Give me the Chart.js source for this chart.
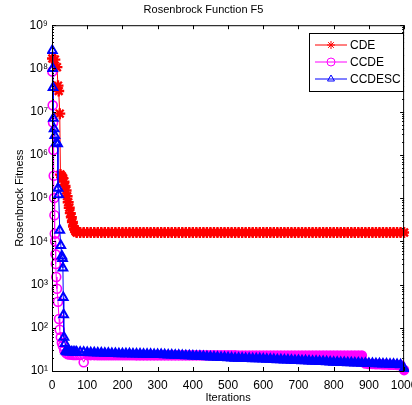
<!DOCTYPE html>
<html>
<head>
<meta charset="utf-8">
<title>Rosenbrock Function F5</title>
<script src="https://cdn.jsdelivr.net/npm/chart.js@4/dist/chart.umd.min.js"></script>
<style>
    html, body { margin: 0; padding: 0; background: #fff; }
    canvas { display: block; }
</style>
</head>
<body>
<canvas id="fitnessChart" width="412" height="405"></canvas>
<script>
// Early (fast descent) phase, per series
const cdeIter = [1, 8, 14, 17, 19, 22, 24, 28, 31, 34, 37, 40, 43, 46, 49, 52, 55, 58, 61, 64, 67];
const cdeFit = [1.7e8, 1.6e8, 1.07e8, 4.0e7, 3.0e7, 9.0e6, 3.5e5, 3.2e5, 2.9e5, 2.4e5, 1.9e5, 1.5e5, 1.1e5, 8.0e4, 6.0e4, 4.5e4, 3.6e4, 2.8e4, 2.2e4, 1.9e4, 1.7e4];

const ccdeIter = [1, 2, 3, 4, 5, 6, 7, 8, 9, 10, 11, 12, 14, 17, 20, 22, 25, 28, 31, 35, 40, 45, 50, 55, 60, 65];
const ccdeFit = [8.5e7, 1.4e7, 5.6e6, 1.3e6, 3.3e5, 1.0e5, 4.0e4, 1.5e4, 1.0e4, 5.0e3, 3.0e3, 1.5e3, 8.0e2, 4.0e2, 1.6e2, 9.0e1, 6.0e1, 4.5e1, 3.8e1, 3.0e1, 2.6e1, 2.45e1, 2.4e1, 2.4e1, 2.35e1, 2.35e1];

const ccdescIter = [1, 2, 3, 4, 6, 8, 12, 16, 17, 19, 22, 25, 28, 30, 31, 32, 33, 34, 37, 39, 42, 46, 50, 55, 60, 65];
const ccdescFit = [2.6e8, 1.0e8, 3.6e7, 7.0e6, 4.0e6, 2.8e6, 1.9e6, 1.8e6, 1.7e5, 1.2e5, 1.8e4, 8.0e3, 4.6e3, 4.0e3, 2.4e3, 5.0e2, 2.0e2, 6.0e1, 4.3e1, 2.9e1, 2.8e1, 2.78e1, 2.76e1, 2.75e1, 2.75e1, 2.75e1];

// Late (plateau) phase, shared iterations
const lateIter = [
    70, 80, 90, 100,
    110, 120, 130, 140, 150, 160, 170, 180, 190, 200,
    210, 220, 230, 240, 250, 260, 270, 280, 290, 300,
    310, 320, 330, 340, 350, 360, 370, 380, 390, 400,
    410, 420, 430, 440, 450, 460, 470, 480, 490, 500,
    510, 520, 530, 540, 550, 560, 570, 580, 590, 600,
    610, 620, 630, 640, 650, 660, 670, 680, 690, 700,
    710, 720, 730, 740, 750, 760, 770, 780, 790, 800,
    810, 820, 830, 840, 850, 860, 870, 880, 890, 900,
    910, 920, 930, 940, 950, 960, 970, 980, 990, 1000
];
const cdeLate = [
    16000, 16000, 16000, 16000,
    16000, 16000, 16000, 16000, 16000, 16000, 16000, 16000, 16000, 16000,
    16000, 16000, 16000, 16000, 16000, 16000, 16000, 16000, 16000, 16000,
    16000, 16000, 16000, 16000, 16000, 16000, 16000, 16000, 16000, 16000,
    16000, 16000, 16000, 16000, 16000, 16000, 16000, 16000, 16000, 16000,
    16000, 16000, 16000, 16000, 16000, 16000, 16000, 16000, 16000, 16000,
    16000, 16000, 16000, 16000, 16000, 16000, 16000, 16000, 16000, 16000,
    16000, 16000, 16000, 16000, 16000, 16000, 16000, 16000, 16000, 16000,
    16000, 16000, 16000, 16000, 16000, 16000, 16000, 16000, 16000, 16000,
    16000, 16000, 16000, 16000, 16000, 16000, 16000, 16000, 16000, 16000
];
const ccdeLate = [
    23.4, 23.4, 16, 23.3,
    23.3, 23.3, 23.2, 23.2, 23.2, 23.2, 23.1, 23.1, 23.1, 23.1,
    23.1, 23.1, 23.1, 23.0, 23.0, 23.0, 23.0, 23.0, 23.0, 23.0,
    23.0, 23.0, 23.0, 23.0, 23.0, 23.0, 23.0, 23.0, 23.0, 23.0,
    23.0, 23.0, 23.0, 23.0, 23.0, 23.0, 23.0, 23.0, 23.0, 23.0,
    23.0, 23.0, 22.9, 22.9, 22.9, 22.9, 22.9, 22.9, 22.9, 22.9,
    22.9, 22.9, 22.9, 22.9, 22.9, 22.9, 22.9, 22.9, 22.9, 22.9,
    22.9, 22.9, 22.9, 22.9, 22.9, 22.9, 22.9, 22.9, 22.9, 22.9,
    22.9, 22.9, 22.9, 22.9, 22.9, 22.9, 22.9, 22.8, 15.0, 14.6,
    14.5, 14.4, 14.3, 14.2, 14.1, 14.0, 13.9, 13.8, 13.5, 10.5
];
const ccdescLate = [
    27.4, 27.2, 27.0, 26.8,
    26.6, 26.4, 26.2, 26.0, 25.8, 25.6, 25.4, 25.3, 25.2, 25.1,
    25.0, 24.9, 24.8, 24.7, 24.6, 24.5, 24.4, 24.3, 24.2, 24.1,
    24.0, 23.8, 23.6, 23.4, 23.2, 23.0, 22.8, 22.6, 22.4, 22.2,
    22.0, 21.8, 21.6, 21.4, 21.2, 21.0, 20.8, 20.6, 20.4, 20.2,
    20.0, 19.8, 19.7, 19.6, 19.5, 19.4, 19.3, 19.2, 19.1, 19.0,
    18.8, 18.6, 18.5, 18.3, 18.1, 18.0, 17.9, 17.8, 17.6, 17.5,
    17.3, 17.2, 17.0, 16.9, 16.8, 16.6, 16.5, 16.4, 16.2, 16.0,
    15.9, 15.8, 15.7, 15.6, 15.5, 15.4, 15.3, 15.2, 15.1, 15.0,
    14.9, 14.8, 14.7, 14.6, 14.5, 14.4, 14.3, 14.2, 14.0, 11.5
];

const xTicks = [0, 100, 200, 300, 400, 500, 600, 700, 800, 900, 1000];
const yExponents = [1, 2, 3, 4, 5, 6, 7, 8, 9];
const supDigits = ['⁰', '¹', '²', '³', '⁴', '⁵', '⁶', '⁷', '⁸', '⁹'];

const FONT = "'Liberation Sans', Arial, sans-serif";
const PLATEAU_START = 100; // from here the markers overlap into a solid band

function toPoints(iters, fits) {
    return iters.map((it, i) => ({ x: it, y: fits[i] }));
}

const series = [
    { label: 'CDE', color: '#ff0000', style: 'star', radius: 5.5, width: 2.4, order: 2,
      points: toPoints(cdeIter, cdeFit).concat(toPoints(lateIter, cdeLate)) },
    { label: 'CCDE', color: '#ff00ff', style: 'circle', radius: 4.5, width: 1.6, order: 1,
      points: toPoints(ccdeIter, ccdeFit).concat(toPoints(lateIter, ccdeLate)) },
    { label: 'CCDESC', color: '#0000ff', style: 'triangle', radius: 5, width: 2, order: 0,
      points: toPoints(ccdescIter, ccdescFit).concat(toPoints(lateIter, ccdescLate)) }
];

// MATLAB-like box, inward ticks and legend box
const matlabBox = {
    id: 'matlabBox',
    afterDraw(chart) {
        const { ctx, chartArea: a, scales: { x, y } } = chart;
        ctx.save();
        ctx.strokeStyle = '#000';
        ctx.lineWidth = 1;
        ctx.strokeRect(a.left + 0.5, a.top + 0.5, a.right - a.left - 1, a.bottom - a.top);

        ctx.beginPath();
        xTicks.forEach(v => {
            const px = Math.round(x.getPixelForValue(v)) + 0.5;
            ctx.moveTo(px, a.bottom); ctx.lineTo(px, a.bottom - 4);
            ctx.moveTo(px, a.top); ctx.lineTo(px, a.top + 4);
        });
        yExponents.forEach(e => {
            for (let m = 1; m < 10; m++) {
                if (e === 9 && m > 1) break;
                const py = Math.round(y.getPixelForValue(m * Math.pow(10, e))) + 0.5;
                const len = m === 1 ? 4 : 2;
                ctx.moveTo(a.left, py); ctx.lineTo(a.left + len, py);
                ctx.moveTo(a.right, py); ctx.lineTo(a.right - len, py);
            }
        });
        ctx.stroke();

        // legend
        const bx = 309, by = 33, bw = 94, bh = 58;
        ctx.fillStyle = '#fff';
        ctx.fillRect(bx, by, bw, bh);
        ctx.strokeRect(bx + 0.5, by + 0.5, bw, bh);
        ctx.font = '12px ' + FONT;
        ctx.textBaseline = 'middle';
        series.forEach((s, i) => {
            const ly = by + 12 + i * 17;
            ctx.strokeStyle = s.color;
            ctx.lineWidth = 1;
            ctx.beginPath();
            ctx.moveTo(bx + 6, ly); ctx.lineTo(bx + 38, ly);
            ctx.stroke();
            ctx.fillStyle = 'rgba(0,0,0,0)';
            ctx.lineWidth = 1;
            Chart.helpers.drawPoint(ctx, { pointStyle: s.style, rotation: 0, radius: 4, borderWidth: 1 }, bx + 22, ly);
            ctx.fillStyle = '#000';
            ctx.fillText(s.label, bx + 41, ly + 1);
        });
        ctx.restore();
    }
};

const ctx = document.getElementById('fitnessChart').getContext('2d');
const fitnessChart = new Chart(ctx, {
    type: 'line',
    data: {
        datasets: series.map(s => ({
            label: s.label,
            data: s.points,
            borderColor: s.color,
            backgroundColor: 'rgba(0,0,0,0)',
            borderWidth: 1,
            pointStyle: s.style,
            pointRadius: s.radius,
            pointBorderWidth: s.width,
            pointBorderColor: s.color,
            pointBackgroundColor: c => (c.raw && c.raw.x >= PLATEAU_START) ? s.color : 'rgba(0,0,0,0)',
            pointHoverRadius: s.radius,
            tension: 0,
            fill: false,
            clip: 5,
            order: s.order
        }))
    },
    options: {
        responsive: false,
        animation: false,
        events: [],
        layout: { padding: { left: 0, right: 5, top: 0, bottom: 0 } },
        scales: {
            x: {
                type: 'linear',
                min: 0,
                max: 1000,
                afterBuildTicks: scale => { scale.ticks = xTicks.map(v => ({ value: v })); },
                afterFit: scale => { scale.height = 34; scale.paddingLeft = 0; scale.paddingRight = 0; },
                grid: { display: false, drawTicks: false },
                border: { display: false },
                ticks: {
                    color: '#000',
                    font: { family: FONT, size: 12 },
                    padding: 7,
                    maxRotation: 0,
                    autoSkip: false,
                    callback: v => String(v)
                },
                title: { display: true, text: 'Iterations', color: '#000', font: { family: FONT, size: 11 }, padding: { top: 0, bottom: 0 } }
            },
            y: {
                type: 'logarithmic',
                min: 10,
                max: 1e9,
                afterBuildTicks: scale => { scale.ticks = yExponents.map(e => ({ value: Math.pow(10, e) })); },
                afterFit: scale => { scale.width = 52; scale.paddingTop = 0; scale.paddingBottom = 0; },
                grid: { display: false, drawTicks: false },
                border: { display: false },
                ticks: {
                    color: '#000',
                    font: { family: FONT, size: 12 },
                    padding: 4,
                    autoSkip: false,
                    callback: v => '10' + supDigits[Math.round(Math.log10(v))]
                },
                title: { display: true, text: 'Rosenbrock Fitness', color: '#000', font: { family: FONT, size: 11 }, padding: { top: 13, bottom: 0 } }
            }
        },
        plugins: {
            legend: { display: false },
            tooltip: { enabled: false },
            title: {
                display: true,
                text: 'Rosenbrock Function F5',
                color: '#000',
                font: { family: FONT, size: 11, weight: 'normal' },
                padding: { top: 3, bottom: 9 }
            }
        }
    },
    plugins: [matlabBox]
});
</script>
</body>
</html>
